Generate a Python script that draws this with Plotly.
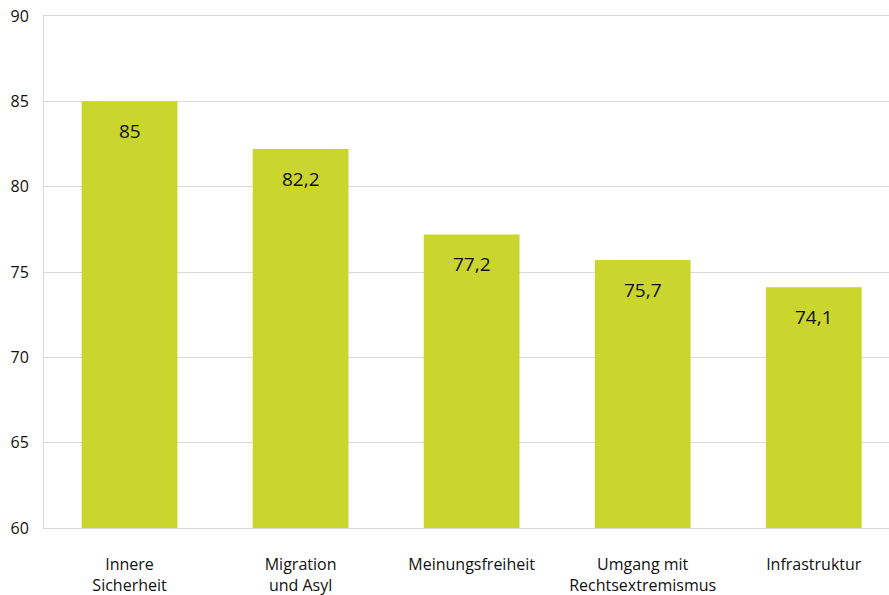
import plotly.graph_objects as go

categories = ["Innere<br>Sicherheit", "Migration<br>und Asyl", "Meinungsfreiheit",
              "Umgang mit<br>Rechtsextremismus", "Infrastruktur"]
values = [85, 82.2, 77.2, 75.7, 74.1]
value_labels = ["85", "82,2", "77,2", "75,7", "74,1"]
y_ticks = [60, 65, 70, 75, 80, 85, 90]

FONT = "Open Sans"
fig = go.Figure()
fig.add_trace(go.Bar(
    x=list(range(len(categories))), y=values, width=0.56,
    marker=dict(color="#CAD52D", line=dict(width=0)),
    hoverinfo="skip",
))
for i, (v, t) in enumerate(zip(values, value_labels)):
    fig.add_annotation(x=i, y=v, text=t, showarrow=False, yanchor="top",
                       yshift=-15, font=dict(family=FONT, size=19, color="#111111"))

fig.update_layout(
    width=889, height=595,
    margin=dict(l=44, r=0, t=16, b=67),
    plot_bgcolor="white", paper_bgcolor="white",
    showlegend=False,
    font=dict(family=FONT, size=16, color="#111111"),
)
fig.update_xaxes(
    tickmode="array", tickvals=list(range(len(categories))), ticktext=categories,
    range=[-0.5, 4.44], showgrid=False, zeroline=False,
    showline=True, mirror=True, linecolor="#D9D9D9", linewidth=1,
    ticks="", ticklabelstandoff=22,
    tickfont=dict(family=FONT, size=16, color="#111111"),
)
fig.update_yaxes(
    range=[60, 90], tickvals=y_ticks, showgrid=True, gridcolor="#D9D9D9", gridwidth=1,
    zeroline=False, showline=True, linecolor="#D9D9D9", linewidth=1,
    ticks="", ticklabelstandoff=11,
    tickfont=dict(family=FONT, size=16, color="#111111"),
)
fig.write_html("out.html", config={"displayModeBar": False},
               post_script="document.body.style.margin='0';")
